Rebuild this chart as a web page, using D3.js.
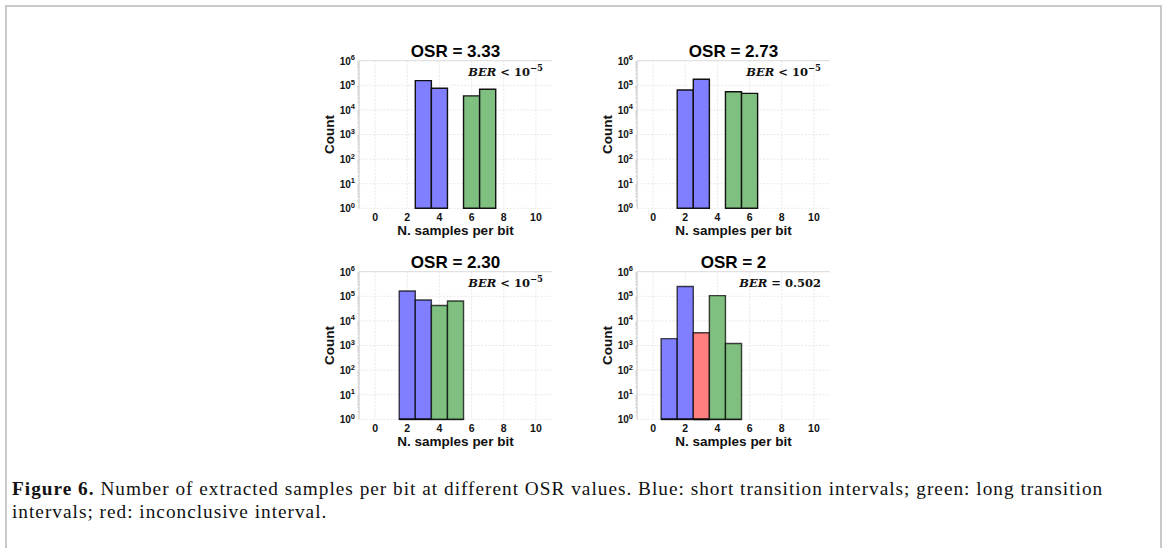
<!DOCTYPE html>
<html>
<head>
<meta charset="utf-8">
<script src="https://cdn.jsdelivr.net/npm/d3@7"></script>
<style>
  html, body { margin: 0; padding: 0; background: #fff; }
  svg { display: block; }
</style>
</head>
<body>
<svg id="fig" width="1166" height="548"></svg>
<script>
// Histogram of extracted samples per bit, one panel per OSR value
const panelTitles = ["OSR = 3.33", "OSR = 2.73", "OSR = 2.30", "OSR = 2"];
const berLabels = [
  { lhs: "BER", op: " < ", rhs: "10", exp: "\u22125" },
  { lhs: "BER", op: " < ", rhs: "10", exp: "\u22125" },
  { lhs: "BER", op: " < ", rhs: "10", exp: "\u22125" },
  { lhs: "BER", op: " = ", rhs: "0.502", exp: "" }
];

// bin centres and counts (zero = empty bin, drawn flat on the baseline)
const blueBins   = [[3, 4], [2, 3], [2, 3, 4, 5], [1, 2, 3, 4, 5]];
const blueCounts = [[155000, 76000], [64000, 175000], [165000, 71000, 0, 0], [1900, 250000, 0, 0, 0]];
const greenBins   = [[6, 7], [5, 6], [2, 3, 4, 5], [1, 2, 3, 4, 5]];
const greenCounts = [[37000, 69000], [55000, 47000], [0, 0, 42000, 64000], [0, 0, 0, 107000, 1200]];
const redBins   = [[], [], [], [3]];
const redCounts = [[], [], [], [3300]];

const xTicks = [0, 2, 4, 6, 8, 10];
const yExponents = [0, 1, 2, 3, 4, 5, 6];

const captionBold = "Figure 6.";
const captionLine1 = " Number of extracted samples per bit at different OSR values. Blue: short transition intervals; green: long transition";
const captionLine2 = "intervals; red: inconclusive interval.";

const seriesStyle = {
  blue:  "#7f7fff",
  green: "#7fbf7f",
  red:   "#ff7f7f"
};

const svg = d3.select("#fig");

// outer frame
svg.append("path")
  .attr("d", "M6,560 V6 H1161 V560")
  .attr("fill", "none")
  .attr("stroke", "#c8c8c8")
  .attr("stroke-width", 2);

const plotW = 193, plotH = 147.6;
const origins = [
  { x: 359, y: 60.7 },
  { x: 637, y: 60.7 },
  { x: 359, y: 271.7 },
  { x: 637, y: 271.7 }
];

origins.forEach((o, i) => {
  const g = svg.append("g").attr("transform", `translate(${o.x},${o.y})`);
  const x = d3.scaleLinear().domain([-1, 11]).range([0, plotW]);
  const y = d3.scaleLog().domain([1, 1e6]).range([plotH, 0]);

  // grid
  g.append("g").selectAll("line").data(xTicks).join("line")
    .attr("x1", d => x(d)).attr("x2", d => x(d))
    .attr("y1", 0).attr("y2", plotH)
    .attr("stroke", "#e2e2e2").attr("stroke-width", 0.8)
    .attr("stroke-dasharray", "2,1.5");
  g.append("g").selectAll("line").data(yExponents).join("line")
    .attr("x1", 0).attr("x2", plotW)
    .attr("y1", d => y(Math.pow(10, d))).attr("y2", d => y(Math.pow(10, d)))
    .attr("stroke", d => d === 6 ? "#d0d0d0" : "#e2e2e2").attr("stroke-width", 0.8)
    .attr("stroke-dasharray", d => d === 6 ? null : "2,1.5");

  // left spine with minor ticks
  g.append("line").attr("x1", 0).attr("x2", 0).attr("y1", 0).attr("y2", plotH)
    .attr("stroke", "#c4c4c4").attr("stroke-width", 1);
  const minor = [];
  for (let e = 0; e < 6; e++) for (let m = 2; m <= 9; m++) minor.push(m * Math.pow(10, e));
  g.append("g").selectAll("line").data(minor).join("line")
    .attr("x1", -2).attr("x2", 0)
    .attr("y1", d => y(d)).attr("y2", d => y(d))
    .attr("stroke", "#c4c4c4").attr("stroke-width", 0.6);

  // bars
  const edge = i >= 2 ? "rgba(0,0,0,0.72)" : "#111";
  const drawSeries = (bins, counts, fill) => {
    const data = bins.map((b, k) => ({ b, c: counts[k] }));
    g.append("g").selectAll("path").data(data).join("path")
      .attr("d", d => {
        const x0 = x(d.b - 0.5), x1 = x(d.b + 0.5);
        const yb = y(1), yt = y(Math.max(d.c, 1));
        return `M${x0},${yb} V${yt} H${x1} V${yb} Z`;
      })
      .attr("fill", fill)
      .attr("stroke", edge)
      .attr("stroke-width", d => d.c > 0 ? 1.4 : 2);
  };
  drawSeries(blueBins[i], blueCounts[i], seriesStyle.blue);
  drawSeries(redBins[i], redCounts[i], seriesStyle.red);
  drawSeries(greenBins[i], greenCounts[i], seriesStyle.green);

  // x tick labels
  g.append("g").selectAll("text").data(xTicks).join("text")
    .attr("x", d => x(d)).attr("y", plotH + 12.5)
    .attr("text-anchor", "middle")
    .attr("font-family", "Liberation Sans, Arial, sans-serif")
    .attr("font-weight", "bold").attr("font-size", 10.5)
    .attr("fill", "#111")
    .text(d => d);

  // y tick labels 10^n
  const yl = g.append("g").selectAll("text").data(yExponents).join("text")
    .attr("x", -4).attr("y", d => y(Math.pow(10, d)) + 4)
    .attr("text-anchor", "end")
    .attr("font-family", "Liberation Sans, Arial, sans-serif")
    .attr("font-weight", "bold").attr("font-size", 10)
    .attr("fill", "#111");
  yl.append("tspan").text("10");
  yl.append("tspan").attr("dy", -4.5).attr("font-size", 7.5).text(d => d);

  // title
  g.append("text")
    .attr("x", plotW / 2).attr("y", -3.5)
    .attr("text-anchor", "middle")
    .attr("font-family", "Liberation Sans, Arial, sans-serif")
    .attr("font-weight", "bold").attr("font-size", 17)
    .attr("fill", "#000")
    .text(panelTitles[i]);

  // axis labels
  g.append("text")
    .attr("x", plotW / 2).attr("y", plotH + 27)
    .attr("text-anchor", "middle")
    .attr("font-family", "Liberation Sans, Arial, sans-serif")
    .attr("font-weight", "bold").attr("font-size", 13.5)
    .attr("fill", "#111")
    .text("N. samples per bit");
  g.append("text")
    .attr("transform", `translate(-25,${plotH / 2}) rotate(-90)`)
    .attr("text-anchor", "middle")
    .attr("font-family", "Liberation Sans, Arial, sans-serif")
    .attr("font-weight", "bold").attr("font-size", 13.5)
    .attr("fill", "#111")
    .text("Count");

  // BER annotation
  const b = berLabels[i];
  const bt = g.append("text")
    .attr("x", plotW - 9).attr("y", 15.5)
    .attr("text-anchor", "end")
    .attr("font-family", "DejaVu Serif, Liberation Serif, serif")
    .attr("font-weight", "bold").attr("font-size", 11.5)
    .attr("fill", "#111");
  bt.append("tspan").attr("font-style", "italic").text(b.lhs);
  bt.append("tspan").attr("xml:space", "preserve").text(b.op);
  bt.append("tspan").text(b.rhs);
  if (b.exp) bt.append("tspan").attr("dy", -5.5).attr("font-size", 8.5).text(b.exp);
});

// caption
const cap = svg.append("g")
  .attr("font-family", "Liberation Serif, Times New Roman, serif")
  .attr("font-size", 19.3)
  .attr("letter-spacing", 1)
  .attr("fill", "#111");
const l1 = cap.append("text").attr("x", 12).attr("y", 495);
l1.append("tspan").attr("font-weight", "bold").text(captionBold);
l1.append("tspan").text(captionLine1);
cap.append("text").attr("x", 12).attr("y", 518).text(captionLine2);
</script>
</body>
</html>
